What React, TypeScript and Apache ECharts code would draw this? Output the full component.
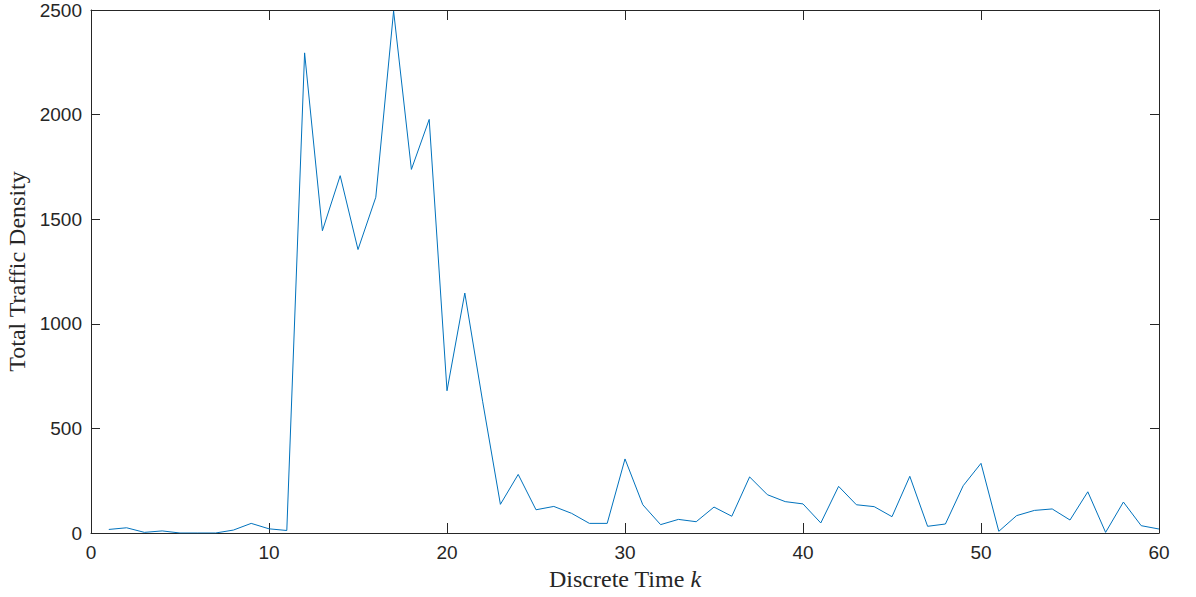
import React, { useEffect, useRef } from "react";
import * as echarts from "echarts";

const timeSteps: number[] = Array.from({ length: 60 }, (_, i) => i + 1);
const density: number[] = [
  17, 25, 3, 10, 0, 0, 0, 14, 46, 20,
  12, 2295, 1445, 1708, 1355, 1605, 2495, 1738, 1977, 680,
  1147, 630, 137, 280, 111, 127, 94, 46, 46, 354,
  135, 40, 65, 54, 124, 80, 268, 183, 150, 139,
  48, 223, 135, 126, 78, 271, 32, 43, 226, 333,
  8, 83, 108, 115, 62, 197, 3, 148, 35, 19,
];
const xTicks = { min: 0, max: 60, interval: 10 };
const yTicks = { min: 0, max: 2500, interval: 500 };

const axisColor = "#262626";
const serif = "Liberation Serif, Times New Roman, serif";

export default function App() {
  const ref = useRef<HTMLDivElement>(null);
  useEffect(() => {
    if (!ref.current) return;
    const chart = echarts.init(ref.current, undefined, { renderer: "svg" });
    const data = timeSteps.map((k, i) => [k, density[i]]);
    const tickFont = {
      fontFamily: "Liberation Sans, Arial, sans-serif",
      fontSize: 19,
      color: axisColor,
      formatter: (v: number) => String(v),
    };
    const lineCommon = { show: true, onZero: false, lineStyle: { color: axisColor, width: 1 } };
    chart.setOption({
      animation: false,
      backgroundColor: "#ffffff",
      grid: { left: 91, right: 37, top: 10, bottom: 64, containLabel: false, outerBoundsMode: "none" },
      xAxis: [
        {
          type: "value",
          ...xTicks,
          position: "bottom",
          name: "{a|Discrete Time }{b|k}",
          nameLocation: "middle",
          nameGap: 33,
          nameTextStyle: {
            rich: {
              a: { fontFamily: serif, fontSize: 24, color: axisColor },
              b: { fontFamily: serif, fontSize: 24, fontStyle: "italic", color: axisColor },
            },
          },
          axisLine: lineCommon,
          axisTick: { show: true, inside: true, length: 10, lineStyle: { color: axisColor } },
          axisLabel: { ...tickFont, margin: 10 },
          splitLine: { show: false },
        },
        {
          type: "value",
          ...xTicks,
          position: "top",
          axisLine: lineCommon,
          axisTick: { show: true, inside: true, length: 10, lineStyle: { color: axisColor } },
          axisLabel: { show: false },
          splitLine: { show: false },
        },
      ],
      yAxis: [
        {
          type: "value",
          ...yTicks,
          position: "left",
          name: "Total Traffic Density",
          nameLocation: "middle",
          nameGap: 57,
          nameTextStyle: { fontFamily: serif, fontSize: 24, color: axisColor },
          axisLine: lineCommon,
          axisTick: { show: true, inside: true, length: 9, lineStyle: { color: axisColor } },
          axisLabel: { ...tickFont, margin: 9 },
          splitLine: { show: false },
        },
        {
          type: "value",
          ...yTicks,
          position: "right",
          axisLine: lineCommon,
          axisTick: { show: true, inside: true, length: 9, lineStyle: { color: axisColor } },
          axisLabel: { show: false },
          splitLine: { show: false },
        },
      ],
      series: [
        {
          type: "line",
          data,
          xAxisIndex: 0,
          yAxisIndex: 0,
          showSymbol: false,
          symbol: "none",
          lineStyle: { color: "#0072BD", width: 1 },
        },
      ],
    });
    return () => chart.dispose();
  }, []);
  return (
    <div
      ref={ref}
      style={{ position: "fixed", left: 0, top: 0, width: 1196, height: 597, background: "#fff" }}
    />
  );
}
